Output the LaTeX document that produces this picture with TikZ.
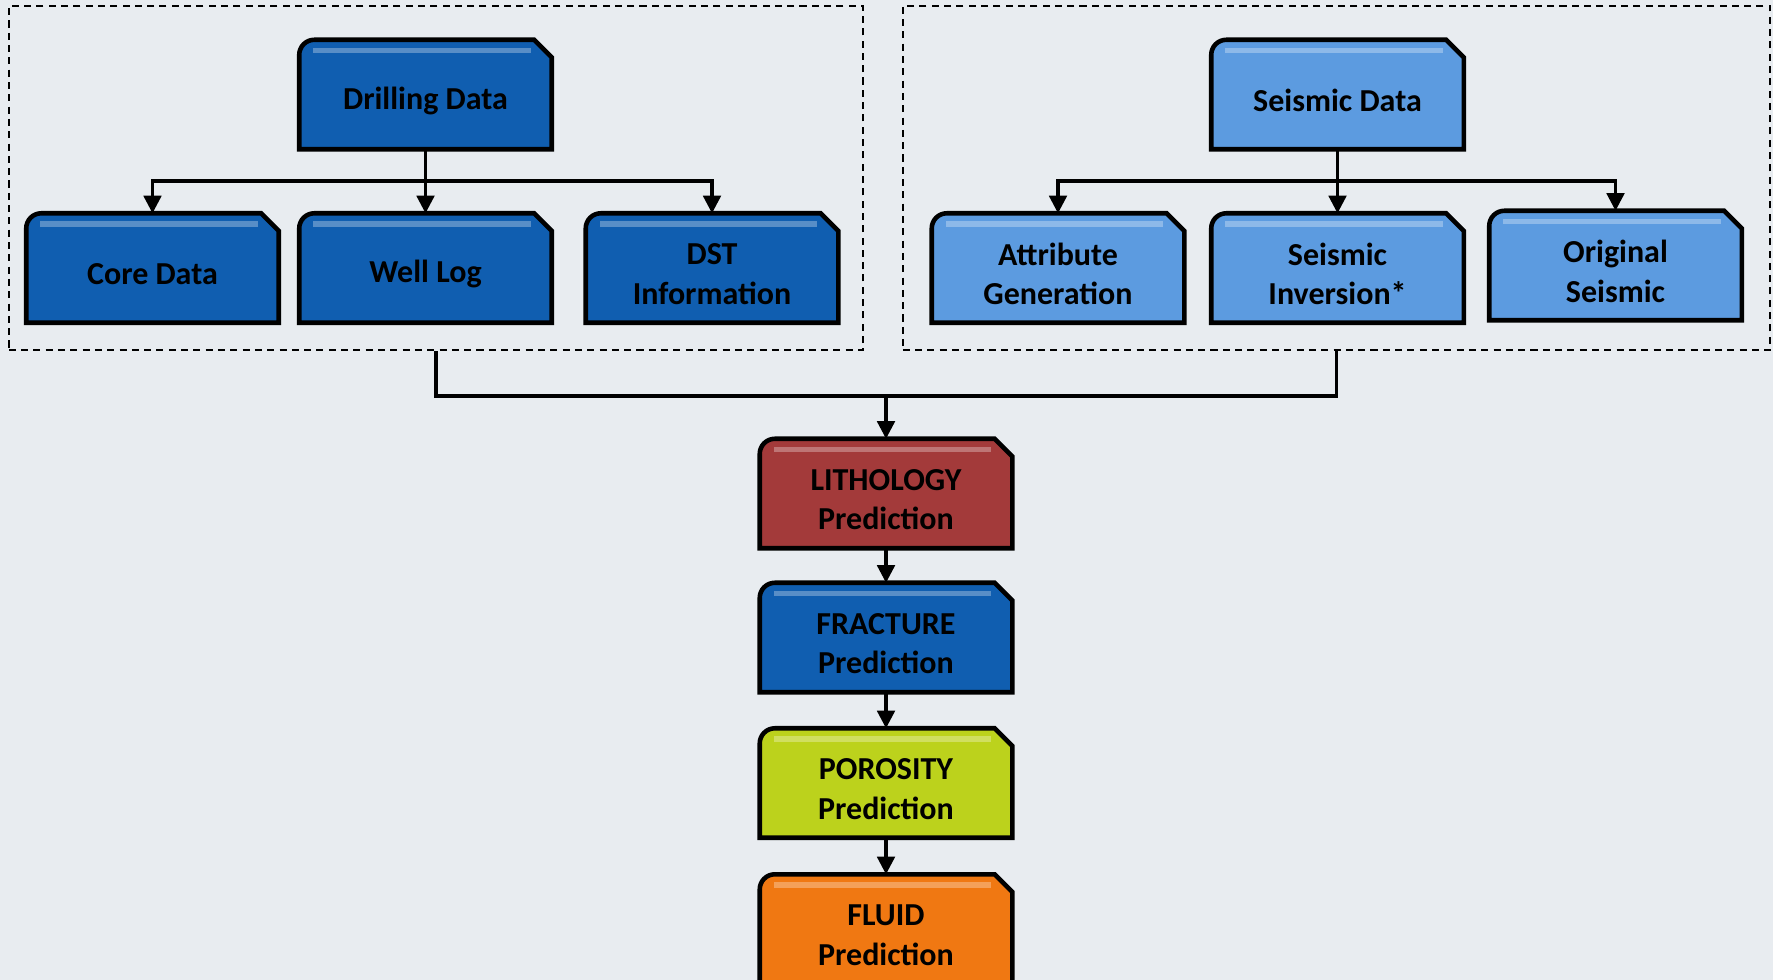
\documentclass[tikz,border=0pt]{standalone}
\usepackage{fontspec}
\setmainfont{Carlito}
\usepackage{xcolor}
\usetikzlibrary{arrows.meta}
\tikzset{>={Triangle[width=5pt,length=5pt]}}
\definecolor{drillblue}{RGB}{16,94,176}
\definecolor{seisblue}{RGB}{92,155,224}
\definecolor{lithred}{RGB}{163,58,58}
\definecolor{poroyellow}{RGB}{188,210,28}
\definecolor{fluidorange}{RGB}{240,120,18}
\definecolor{marble}{RGB}{232,236,240}
\pgfdeclarelayer{background}
\pgfsetlayers{background,main}
\def\lift{1.7pt}

\begin{document}
\begin{tikzpicture}[x=0.01cm,y=-0.01cm,
		stage/.style={minimum width=2.51cm,minimum height=1.08cm,inner sep=0pt,align=center,
			font=\bfseries\fontsize{9.1}{11.3}\selectfont},
		datagroup/.style={draw,dash pattern=on 2pt off 1.5pt,line width=.6pt,inner sep=0pt},
		link/.style={line width=.9pt}]
			\useasboundingbox (0,0) rectangle (1773,980);
			% the two dashed groups
			\node[datagroup,minimum width=8.54cm,minimum height=3.44cm] (drillgrp) at (436,178) {};
			\node[datagroup,minimum width=8.67cm,minimum height=3.44cm] (seisgrp) at (1336.5,178) {};
			% drilling side (text sits 6 units below the box centre)
			\node[stage] (drill) at (425.5,100.5) {Drilling Data};
			\node[stage] (core) at (152.5,274) {Core Data};
			\node[stage] (well) at (425.5,274) {Well Log};
			\node[stage] (dst) at (712,274) {DST\\Information};
			% seismic side
			\node[stage] (seis) at (1337.5,100.5) {Seismic Data};
			\node[stage] (attr) at (1058,274) {Attribute\\Generation};
			\node[stage] (inv) at (1337.5,274) {Seismic\\Inversion*};
			\node[stage] (orig) at (1615.5,271.5) {Original\\Seismic};
			% prediction chain
			\node[stage] (litho) at (886,499.5) {LITHOLOGY\\Prediction};
			\node[stage] (frac) at (886,643.5) {FRACTURE\\Prediction};
			\node[stage] (poro) at (886,789) {POROSITY\\Prediction};
			\node[stage] (fluid) at (886,935) {FLUID\\Prediction};
			\begin{pgfonlayer}{background}
				\fill[marble] (0,0) rectangle (1773,980);
				\foreach \n/\c in {drill/drillblue,core/drillblue,well/drillblue,dst/drillblue,
					seis/seisblue,attr/seisblue,inv/seisblue,orig/seisblue,
					litho/lithred,frac/drillblue,poro/poroyellow,fluid/fluidorange}{
					\filldraw[fill=\c,line width=1.3pt] ([yshift=\lift]\n.south west) -- ([yshift=\lift-4.3pt]\n.north west)
						arc[start angle=180,end angle=90,radius=4.3pt] -- ([shift={(-5pt,\lift)}]\n.north east)
						-- ([yshift=\lift-5pt]\n.north east) -- ([yshift=\lift]\n.south east) -- cycle;
					\draw[white,opacity=.3,line width=1.6pt] ([shift={(4pt,\lift-3pt)}]\n.north west) -- ([shift={(-6pt,\lift-3pt)}]\n.north east);
				}
			\end{pgfonlayer}
			% connectors
			\coordinate (lsplit) at (425.5,181);
			\coordinate (rsplit) at (1337.5,181);
			\coordinate (join) at (886,396);
			\draw[link,->] (drill.south) ++(0,-6) -- (lsplit) -- ([yshift=\lift]well.north);
			\draw[link,->] (lsplit) -| ([yshift=\lift]core.north);
			\draw[link,->] (lsplit) -| ([yshift=\lift]dst.north);
			\draw[link,->] ([yshift=\lift]seis.south) -- (rsplit) -- ([yshift=\lift]inv.north);
			\draw[link,->] (rsplit) -| ([yshift=\lift]attr.north);
			\draw[link,->] (rsplit) -| ([yshift=\lift]orig.north);
			\draw[link] (drillgrp.south) |- (join) -| (seisgrp.south);
			\draw[link,->] (join) -- ([yshift=\lift]litho.north);
			\draw[link,->] ([yshift=\lift]litho.south) -- ([yshift=\lift]frac.north);
			\draw[link,->] ([yshift=\lift]frac.south) -- ([yshift=\lift]poro.north);
			\draw[link,->] ([yshift=\lift]poro.south) -- ([yshift=\lift]fluid.north);
		\end{tikzpicture}
\end{document}
